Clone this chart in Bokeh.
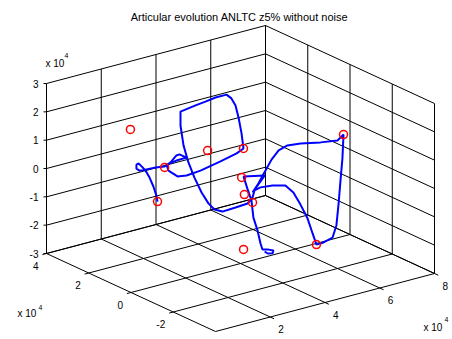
from bokeh.plotting import figure
from bokeh.models import Range1d
from bokeh.embed import file_html
from bokeh.resources import INLINE
from bokeh.core.properties import value

# ---------------- data (units of 1e4) ----------------
title_text = "Articular evolution ANLTC z5% without noise"

x_lim = [0, 8]
y_lim = [-4, 4]
z_lim = [-3, 3]
x_grid = [0, 2, 4, 6, 8]
y_grid = [-4, -2, 0, 2, 4]
z_grid = [-3, -2, -1, 0, 1, 2, 3]
x_tick_labels = ["2", "4", "6", "8"]
x_tick_vals = [2, 4, 6, 8]
y_tick_labels = ["-2", "0", "2", "4"]
y_tick_vals = [-2, 0, 2, 4]
z_tick_labels = ["-3", "-2", "-1", "0", "1", "2", "3"]
z_tick_vals = [-3, -2, -1, 0, 1, 2, 3]

traj_x = [1.74, 1.70, 1.59, 1.45, 1.30, 1.16, 1.05, 0.97, 0.97, 1.08,
          1.30, 1.67, 2.00, 2.22, 2.43, 2.54, 2.80, 2.43, 2.07, 2.14,
          2.47, 2.80, 3.31, 4.04, 4.63, 4.88, 4.81, 4.70, 4.59, 4.44,
          4.26, 3.86, 3.49, 3.13, 2.58, 2.58, 2.69, 2.87, 3.09, 3.35,
          3.60, 3.82, 4.11, 4.59, 5.03, 4.44, 4.51, 4.73, 5.17, 5.64,
          5.16, 5.42, 5.68, 5.09, 5.23, 5.49, 5.82, 5.96, 6.04, 6.11,
          6.18, 6.22, 6.00, 5.38, 4.65, 4.17, 3.85, 3.59, 3.37, 3.11,
          2.90, 4.11, 3.34, 3.48, 3.63, 3.70, 3.85, 3.96, 4.03, 4.25,
          4.43, 4.40, 4.22, 4.11]
traj_y = [1, 1, 1, 1, 1, 1, 1, 1, 1, 1,
          1, 1, 1, 1, 1, 1, 1, 1, 1, 1,
          1, 1, 1, 1, 1, 1, 1, 1, 1, 1,
          1, 1, 1, 1, 1, 1, 1, 1, 1, 1,
          1, 1, 1, 1, 1, 0, 0, 0, 0, 0,
          -1, -1, -1, -2, -2, -2, -2, -2, -2, -2,
          -2, -2, -2, -2, -2, -2, -2, -2, -2, -2,
          -2, -1, -1, -1, -1, -1, -1, -1, -1, -1,
          -1, -1, -1, -1]
traj_z = [-0.58, -0.36, -0.01, 0.34, 0.63, 0.81, 0.94, 0.92, 0.78, 0.68,
          0.66, 0.64, 0.59, 0.68, 0.87, 0.88, 0.70, 0.69, 0.64, 0.41,
          0.12, 0.07, 0.11, 0.25, 0.38, 0.49, 1.04, 1.63, 2.08, 2.37,
          2.55, 2.55, 2.50, 2.46, 2.38, 1.89, 1.16, 0.51, -0.08, -0.67,
          -1.12, -1.39, -1.54, -1.52, -1.49, -0.78, -0.55, -0.50, -0.55, -0.67,
          -0.45, -0.94, -1.50, -1.53, -1.96, -1.95, -1.86, -1.47, -0.72, 0.08,
          0.84, 1.67, 1.52, 1.61, 1.76, 1.81, 1.72, 1.46, 1.13, 0.74,
          0.48, 0.42, 0.58, 0.12, -0.34, -0.96, -1.45, -1.94, -2.17, -2.23,
          -2.31, -2.40, -2.36, -2.26]

pts_x = [0.75, 2.00, 3.57, 4.88, 1.74, 3.27, 3.37, 4.44, 6.22, 5.23, 3.34]
pts_y = [1, 1, 1, 1, 1, -1, -1, 0, -2, -2, -1]
pts_z = [2.22, 0.56, 0.75, 0.49, -0.58, 0.57, -0.06, -0.96, 1.67, -1.96, -1.99]

# ---------------- view (orthographic 3-D projection) ----------------
ORIGIN = (215.0, 331.0)          # screen position of (x_min, y_min, z_min)
EX = (27.375, -7.25)             # screen step per unit x
EY = (-21.125, -9.75)            # screen step per unit y
EZ = (0.0, -28.333)              # screen step per unit z


def proj(x, y, z):
    dx, dy, dz = x - x_lim[0], y - y_lim[0], z - z_lim[0]
    return (ORIGIN[0] + dx * EX[0] + dy * EY[0] + dz * EZ[0],
            ORIGIN[1] + dx * EX[1] + dy * EY[1] + dz * EZ[1])


def seg(a, b):
    pa, pb = proj(*a), proj(*b)
    return [pa[0], pb[0]], [pa[1], pb[1]]


W, H = 452, 339
p = figure(width=W, height=H, x_range=Range1d(0, W), y_range=Range1d(H, 0),
           output_backend="svg", toolbar_location=None,
           x_axis_type=None, y_axis_type=None, min_border=0)
p.outline_line_color = None
p.background_fill_color = "white"
p.border_fill_color = "white"

xs, ys = [], []
ymax, xmax = y_lim[1], x_lim[1]
# back-left wall (y = ymax)
for gx in x_grid:
    a, b = seg((gx, ymax, z_lim[0]), (gx, ymax, z_lim[1])); xs.append(a); ys.append(b)
for gz in z_grid:
    a, b = seg((x_lim[0], ymax, gz), (x_lim[1], ymax, gz)); xs.append(a); ys.append(b)
# back-right wall (x = xmax)
for gy in y_grid:
    a, b = seg((xmax, gy, z_lim[0]), (xmax, gy, z_lim[1])); xs.append(a); ys.append(b)
for gz in z_grid:
    a, b = seg((xmax, y_lim[0], gz), (xmax, y_lim[1], gz)); xs.append(a); ys.append(b)
# floor (z = zmin)
for gx in x_grid:
    a, b = seg((gx, y_lim[0], z_lim[0]), (gx, y_lim[1], z_lim[0])); xs.append(a); ys.append(b)
for gy in y_grid:
    a, b = seg((x_lim[0], gy, z_lim[0]), (x_lim[1], gy, z_lim[0])); xs.append(a); ys.append(b)
# tick marks
for gx in x_tick_vals:
    a, b = seg((gx, y_lim[0], z_lim[0]), (gx, y_lim[0] - 0.18, z_lim[0])); xs.append(a); ys.append(b)
for gy in y_tick_vals:
    a, b = seg((x_lim[0], gy, z_lim[0]), (x_lim[0] - 0.15, gy, z_lim[0])); xs.append(a); ys.append(b)
for gz in z_tick_vals:
    sx, sy = proj(x_lim[0], ymax, gz)
    xs.append([sx - 3, sx]); ys.append([sy, sy])

p.multi_line(xs, ys, line_color="black", line_width=1)

# trajectory and waypoints
tx, ty = zip(*[proj(a, b, c) for a, b, c in zip(traj_x, traj_y, traj_z)])
p.line(list(tx), list(ty), line_color="#0000ff", line_width=2)
mx, my = zip(*[proj(a, b, c) for a, b, c in zip(pts_x, pts_y, pts_z)])
p.scatter(list(mx), list(my), marker="circle", size=8, fill_color=None,
          line_color="#ff0000", line_width=1.5)

font = value("Liberation Sans")
# z tick labels
zl = [proj(x_lim[0], ymax, v) for v in z_tick_vals]
p.text([q[0] - 8 for q in zl], [q[1] for q in zl], text=z_tick_labels, text_font=font,
       text_font_size="10px", text_align="right", text_baseline="middle", text_color="black")
# y tick labels
yl = [proj(x_lim[0], v, z_lim[0]) for v in y_tick_vals]
p.text([q[0] - 8 for q in yl], [q[1] + 12 for q in yl], text=y_tick_labels, text_font=font,
       text_font_size="10px", text_align="right", text_baseline="middle", text_color="black")
# x tick labels
xl = [proj(v, y_lim[0], z_lim[0]) for v in x_tick_vals]
p.text([q[0] + 8 for q in xl], [q[1] + 12 for q in xl], text=x_tick_labels, text_font=font,
       text_font_size="10px", text_align="left", text_baseline="middle", text_color="black")

# exponent labels
zt = proj(x_lim[0], ymax, z_lim[1])
p.text([zt[0] - 1], [zt[1] - 20], text=["x 10"], text_font=font, text_font_size="10px",
       text_align="left", text_baseline="middle")
p.text([zt[0] + 18], [zt[1] - 28], text=["4"], text_font=font, text_font_size="7px",
       text_align="left", text_baseline="middle")
yt = proj(x_lim[0], y_lim[1], z_lim[0])
p.text([yt[0] - 29], [yt[1] + 60], text=["x 10"], text_font=font, text_font_size="10px",
       text_align="left", text_baseline="middle")
p.text([yt[0] - 8], [yt[1] + 54], text=["4"], text_font=font, text_font_size="7px",
       text_align="left", text_baseline="middle")
xt = proj(x_lim[1], y_lim[0], z_lim[0])
p.text([xt[0] - 11], [xt[1] + 54], text=["x 10"], text_font=font, text_font_size="10px",
       text_align="left", text_baseline="middle")
p.text([xt[0] + 10], [xt[1] + 46], text=["4"], text_font=font, text_font_size="7px",
       text_align="left", text_baseline="middle")

# title
p.text([239], [16], text=[title_text], text_font=font, text_font_size="11px",
       text_align="center", text_baseline="alphabetic", text_color="black")

open("out.html", "w").write(file_html(p, INLINE))
